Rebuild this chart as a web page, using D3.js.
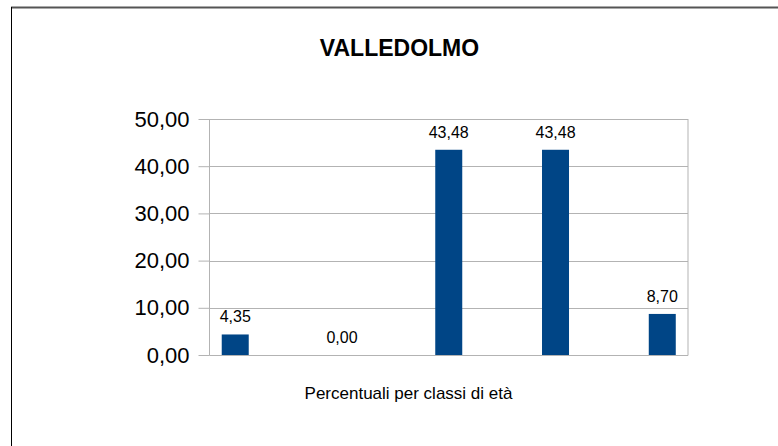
<!DOCTYPE html>
<html>
<head>
<meta charset="utf-8">
<script src="https://cdn.jsdelivr.net/npm/d3@7"></script>
<style>
  html, body { margin: 0; padding: 0; background: #fff; }
  svg { display: block; font-family: "Liberation Sans", Arial, sans-serif; }
</style>
</head>
<body>
<svg id="chart" width="778" height="446"></svg>
<script>
// Age-class percentages for Valledolmo
const chartTitle = "VALLEDOLMO";
const axisTitle = "Percentuali per classi di età";
const categories = ["c1", "c2", "c3", "c4", "c5"];
const values = [4.35, 0.00, 43.48, 43.48, 8.70];
const yTicks = [0, 10, 20, 30, 40, 50];

const svg = d3.select("#chart");
const W = 778, H = 446;

const plot = { left: 209.5, right: 688, top: 119, bottom: 355 };

const fmt = v => d3.format(".2f")(v).replace(".", ",");

// outer frame (top and left edges)
svg.append("line").attr("x1", 11).attr("x2", W).attr("y1", 7.5).attr("y2", 7.5)
  .attr("stroke", "#555").attr("stroke-width", 2);
svg.append("line").attr("x1", 11.5).attr("x2", 11.5).attr("y1", 7).attr("y2", H)
  .attr("stroke", "#000").attr("stroke-width", 1);

const x = d3.scalePoint().domain(categories)
  .range([plot.left, plot.right]).padding(0.241);
const barW = 27;
const y = d3.scaleLinear().domain([0, 50]).range([plot.bottom, plot.top]);

// gridlines
svg.append("g").selectAll("line").data(yTicks).join("line")
  .attr("x1", plot.left).attr("x2", plot.right)
  .attr("y1", d => Math.round(y(d)) + 0.5).attr("y2", d => Math.round(y(d)) + 0.5)
  .attr("stroke", "#b3b3b3").attr("stroke-width", 1);

// plot frame sides
svg.append("line").attr("x1", plot.left).attr("x2", plot.left)
  .attr("y1", plot.top).attr("y2", plot.bottom + 0.5)
  .attr("stroke", "#b3b3b3");
svg.append("line").attr("x1", plot.right).attr("x2", plot.right)
  .attr("y1", plot.top).attr("y2", plot.bottom + 0.5)
  .attr("stroke", "#b3b3b3");

// y axis
const yAxis = d3.axisLeft(y).tickValues(yTicks).tickFormat(fmt)
  .tickSize(11).tickPadding(9);
const gy = svg.append("g").attr("transform", `translate(${plot.left},0)`).call(yAxis);
gy.select(".domain").remove();
gy.selectAll(".tick line").attr("stroke", "#b3b3b3");
gy.selectAll(".tick text").attr("font-size", 22).attr("fill", "#000")
  .attr("font-family", "Liberation Sans, Arial, sans-serif");

// bars
svg.append("g").selectAll("rect").data(values).join("rect")
  .attr("x", (d, i) => x(categories[i]) - barW / 2)
  .attr("width", barW)
  .attr("y", d => y(d))
  .attr("height", d => y(0) - y(d))
  .attr("fill", "#004586");

// value labels
svg.append("g").selectAll("text").data(values).join("text")
  .attr("x", (d, i) => x(categories[i]))
  .attr("y", d => y(d) - 12)
  .attr("text-anchor", "middle")
  .attr("font-size", 16)
  .attr("fill", "#000")
  .text(fmt);

// title
svg.append("text").attr("x", 399.5).attr("y", 56)
  .attr("text-anchor", "middle").attr("font-size", 23).attr("font-weight", "bold")
  .text(chartTitle);

// x axis title
svg.append("text").attr("x", 408.5).attr("y", 399)
  .attr("text-anchor", "middle").attr("font-size", 17)
  .text(axisTitle);
</script>
</body>
</html>
